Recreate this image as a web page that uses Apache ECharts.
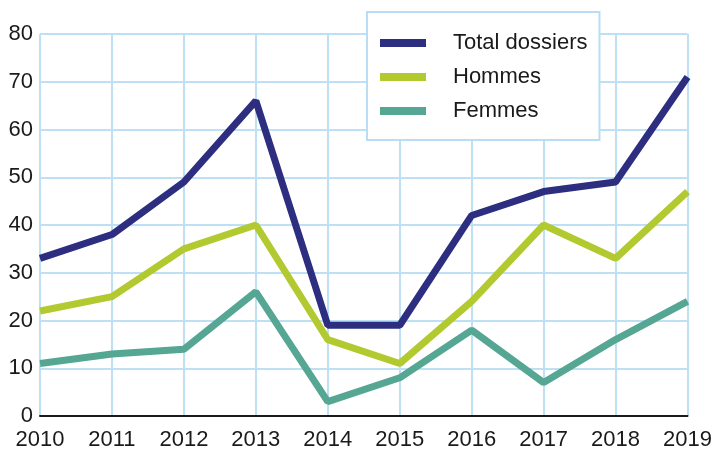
<!DOCTYPE html>
<html><head><meta charset="utf-8">
<script src="https://cdn.jsdelivr.net/npm/echarts@6/dist/echarts.min.js"></script>
<style>html,body{margin:0;padding:0;background:#fff}#c{width:715px;height:452px}</style>
</head><body><div id="c"></div>
<script>
const years = ['2010','2011','2012','2013','2014','2015','2016','2017','2018','2019'];
const totalDossiers = [33, 38, 49, 66, 19, 19, 42, 47, 49, 71];
const hommes = [22, 25, 35, 40, 16, 11, 24, 40, 33, 47];
const femmes = [11, 13, 14, 26, 3, 8, 18, 7, 16, 24];
const seriesNames = ['Total dossiers', 'Hommes', 'Femmes'];
const colors = ['#2d2e80', '#b2ca30', '#55a693'];

const chart = echarts.init(document.getElementById('c'));
const font = 'Liberation Sans, Arial, sans-serif';
chart.setOption({
  animation: false,
  backgroundColor: '#fff',
  color: colors,
  grid: {left: 40, right: 22, top: 34, bottom: 36, containLabel: false},
  legend: {
    show: true,
    orient: 'vertical',
    left: 367, top: 12,
    padding: [19, 12, 17, 13],
    itemGap: 10,
    itemWidth: 46, itemHeight: 8,
    icon: 'rect',
    backgroundColor: '#fff',
    borderColor: '#b9ddf4',
    borderWidth: 2,
    borderRadius: 0,
    textStyle: {fontFamily: font, fontSize: 22, color: '#1a1a1a', lineHeight: 24, padding: [0, 0, 0, 22]},
    data: seriesNames
  },
  xAxis: {
    type: 'category',
    data: years,
    boundaryGap: false,
    axisLine: {show: true, lineStyle: {color: '#1a1a1a', width: 2}},
    axisTick: {show: false},
    axisLabel: {fontFamily: font, fontSize: 22, color: '#1a1a1a', margin: 13, showMaxLabel: true, showMinLabel: true, interval: 0},
    splitLine: {show: true, lineStyle: {color: '#bde0f5', width: 2}}
  },
  yAxis: {
    type: 'value',
    min: 0, max: 80, interval: 10,
    axisLine: {show: false},
    axisTick: {show: false},
    axisLabel: {fontFamily: font, fontSize: 22, color: '#1a1a1a', margin: 7},
    splitLine: {show: true, lineStyle: {color: '#bde0f5', width: 2}}
  },
  series: [
    {name: seriesNames[0], type: 'line', data: totalDossiers, showSymbol: false, symbol: 'none', z: 5,
     lineStyle: {width: 7, color: colors[0]}},
    {name: seriesNames[1], type: 'line', data: hommes, showSymbol: false, symbol: 'none', z: 4,
     lineStyle: {width: 7, color: colors[1]}},
    {name: seriesNames[2], type: 'line', data: femmes, showSymbol: false, symbol: 'none', z: 3,
     lineStyle: {width: 7, color: colors[2]}}
  ]
});
</script>
</body></html>
